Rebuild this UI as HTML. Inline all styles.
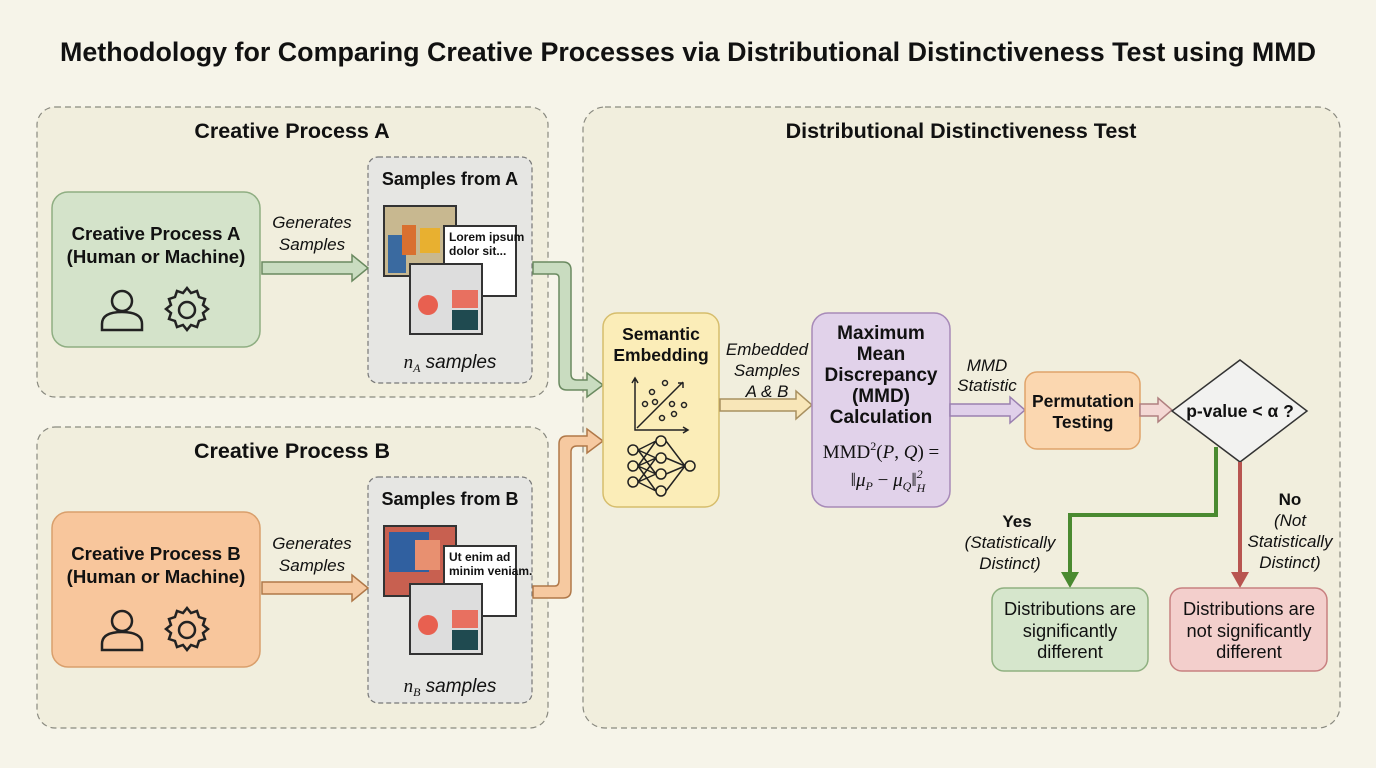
<!DOCTYPE html>
<html><head><meta charset="utf-8"><style>
body{margin:0;background:#f6f4e9;}
svg{display:block;font-family:"Liberation Sans",sans-serif;}
.b{font-weight:bold}
.i{font-style:italic}
</style></head><body>
<svg width="1376" height="768" viewBox="0 0 1376 768">
<rect width="1376" height="768" fill="#f6f4e9"/>
<text x="688" y="61" text-anchor="middle" font-size="26.8" class="b" fill="#111" textLength="1256" lengthAdjust="spacingAndGlyphs">Methodology for Comparing Creative Processes via Distributional Distinctiveness Test using MMD</text>

<g fill="#f1eedd" stroke="#8a8a80" stroke-dasharray="6,4" stroke-width="1.2">
<rect x="37" y="107" width="511" height="290" rx="18"/>
<rect x="37" y="427" width="511" height="301" rx="18"/>
<rect x="583" y="107" width="757" height="621" rx="22"/>
</g>
<g font-size="21.5" class="b" text-anchor="middle" fill="#111">
<text x="292" y="138">Creative Process A</text>
<text x="292" y="458">Creative Process B</text>
<text x="961" y="138">Distributional Distinctiveness Test</text>
</g>

<rect x="52" y="192" width="208" height="155" rx="16" fill="#d4e3ca" stroke="#8fae82" stroke-width="1.5"/>
<rect x="52" y="512" width="208" height="155" rx="16" fill="#f8c69c" stroke="#d99f6c" stroke-width="1.5"/>
<g font-size="18.6" class="b" text-anchor="middle" fill="#111">
<text x="156" y="240">Creative Process A</text><text x="156" y="263">(Human or Machine)</text>
<text x="156" y="560">Creative Process B</text><text x="156" y="583">(Human or Machine)</text>
</g>
<g fill="none" stroke="#222" stroke-width="2.5">
<g id="ic">
<circle cx="122" cy="301" r="10"/>
<path d="M102 330 v-6 q0-12 20-12 q20 0 20 12 v6 z"/>
<circle cx="187" cy="310" r="8"/>
<path d="M187 288 l4 5 6-2 2 6 6 2-2 6 5 4-5 4 2 6-6 2-2 6-6-2-4 5-4-5-6 2-2-6-6-2 2-6-5-4 5-4-2-6 6-2 2-6 6 2z"/>
</g>
<use href="#ic" y="320"/>
</g>

<g fill="#e6e6e3" stroke="#777" stroke-dasharray="5,3" stroke-width="1.2">
<rect x="368" y="157" width="164" height="226" rx="10"/>
<rect x="368" y="477" width="164" height="226" rx="10"/>
</g>
<g font-size="18" class="b" text-anchor="middle" fill="#111">
<text x="450" y="185">Samples from A</text><text x="450" y="505">Samples from B</text>
</g>
<g font-size="19" class="i" text-anchor="middle" fill="#111" font-family="Liberation Serif">
<text x="450" y="368">n<tspan font-size="12" dy="4">A</tspan><tspan dy="-4" font-family="Liberation Sans"> samples</tspan></text>
<text x="450" y="692">n<tspan font-size="12" dy="4">B</tspan><tspan dy="-4" font-family="Liberation Sans"> samples</tspan></text>
</g>
<g stroke="#333" stroke-width="2">
<rect x="384" y="206" width="72" height="70" fill="#c8b890"/>
<rect x="444" y="226" width="72" height="70" fill="#fff"/>
<rect x="410" y="264" width="72" height="70" fill="#ddd"/>
<rect x="384" y="526" width="72" height="70" fill="#c86050"/>
<rect x="444" y="546" width="72" height="70" fill="#fff"/>
<rect x="410" y="584" width="72" height="70" fill="#ddd"/>
</g>
<g stroke="none">
<rect x="388" y="235" width="18" height="38" fill="#3a6aa0"/><rect x="402" y="225" width="14" height="30" fill="#d97030"/><rect x="420" y="228" width="20" height="25" fill="#e8b030"/>
<rect x="389" y="532" width="40" height="40" fill="#3060a0"/><rect x="415" y="540" width="25" height="30" fill="#e89070"/>
<rect x="452" y="290" width="26" height="18" fill="#e87060"/><rect x="452" y="310" width="26" height="20" fill="#1f4a50"/><circle cx="428" cy="305" r="10" fill="#e86050"/>
<rect x="452" y="610" width="26" height="18" fill="#e87060"/><rect x="452" y="630" width="26" height="20" fill="#1f4a50"/><circle cx="428" cy="625" r="10" fill="#e86050"/>
</g>
<g font-size="12" class="b" fill="#111">
<text x="449" y="241">Lorem ipsum</text><text x="449" y="255">dolor sit...</text>
<text x="449" y="561">Ut enim ad</text><text x="449" y="575">minim veniam.</text>
</g>

<g stroke-width="1.5">
<path d="M262 262 h90 v-7 l16 13 -16 13 v-7 h-90z" fill="#c9dcc0" stroke="#6a8a60"/>
<path d="M262 582 h90 v-7 l16 13 -16 13 v-7 h-90z" fill="#f6c9a0" stroke="#b07848"/>
</g>
<g font-size="17" class="i" text-anchor="middle" fill="#111">
<text x="312" y="228">Generates</text><text x="312" y="250">Samples</text>
<text x="312" y="549">Generates</text><text x="312" y="571">Samples</text>
</g>
<path d="M533 262 h30 q8 0 8 8 v104 q0 6 6 6 h10 v-7 l16 12 -16 12 v-7 h-20 q-8 0-8-8 v-104 q0-4-4-4 h-22z" fill="#c9dcc0" stroke="#6a8a60" stroke-width="1.5"/>
<path d="M533 598 h30 q8 0 8-8 v-138 q0-6 6-6 h10 v7 l16-12 -16-12 v7 h-20 q-8 0-8 8 v136 q0 6-4 6 h-22z" fill="#f6c9a0" stroke="#b07848" stroke-width="1.5"/>

<rect x="603" y="313" width="116" height="194" rx="14" fill="#fbedb8" stroke="#d6bd6c" stroke-width="1.5"/>
<g font-size="17.5" class="b" text-anchor="middle" fill="#111"><text x="661" y="340">Semantic</text><text x="661" y="361">Embedding</text></g>
<g fill="none" stroke="#222" stroke-width="1.5">
<path d="M635 378 v52 h53 M632 383 l3-5 3 5 M683 427 l5 3-5 3 M637 428 l46-46 M678 383 h5 v5"/>
<circle cx="665" cy="383" r="2.5"/><circle cx="652" cy="392" r="2.5"/><circle cx="655" cy="402" r="2.5"/><circle cx="645" cy="404" r="2.5"/><circle cx="672" cy="404" r="2.5"/><circle cx="684" cy="405" r="2.5"/><circle cx="674" cy="414" r="2.5"/><circle cx="662" cy="418" r="2.5"/>
<circle cx="633" cy="450" r="5"/><circle cx="633" cy="466" r="5"/><circle cx="633" cy="482" r="5"/>
<circle cx="661" cy="441" r="5"/><circle cx="661" cy="458" r="5"/><circle cx="661" cy="474" r="5"/><circle cx="661" cy="491" r="5"/>
<circle cx="690" cy="466" r="5"/>
<path d="M638 450 L656 441 M638 450 L656 458 M638 450 L656 474 M638 466 L656 441 M638 466 L656 458 M638 466 L656 474 M638 466 L656 491 M638 482 L656 458 M638 482 L656 474 M638 482 L656 491 M666 441 L685 466 M666 458 L685 466 M666 474 L685 466 M666 491 L685 466"/>
</g>

<path d="M720 399 h76 v-8 l16 14 -16 14 v-8 h-76z" fill="#f8e6b8" stroke="#a89060" stroke-width="1.5"/>
<g font-size="17" class="i" text-anchor="middle" fill="#111"><text x="767" y="355">Embedded</text><text x="767" y="376">Samples</text><text x="767" y="397">A &amp; B</text></g>

<rect x="812" y="313" width="138" height="194" rx="16" fill="#e1d2ea" stroke="#a78ab8" stroke-width="1.5"/>
<g font-size="19" class="b" text-anchor="middle" fill="#111"><text x="881" y="339">Maximum</text><text x="881" y="360">Mean</text><text x="881" y="381">Discrepancy</text><text x="881" y="402">(MMD)</text><text x="881" y="423">Calculation</text></g>
<g font-family="Liberation Serif" font-size="19" fill="#111" text-anchor="middle">
<text x="881" y="458">MMD<tspan font-size="12" dy="-8">2</tspan><tspan dy="8">(</tspan><tspan class="i">P</tspan>, <tspan class="i">Q</tspan>) =</text>
<text x="888" y="486">‖<tspan class="i">μ</tspan><tspan font-size="12" class="i" dy="4">P</tspan><tspan dy="-4"> − </tspan><tspan class="i">μ</tspan><tspan font-size="12" class="i" dy="4">Q</tspan><tspan dy="-4">‖</tspan><tspan font-size="12" class="i" dy="-8">2</tspan><tspan font-size="12" class="i" dx="-6" dy="14">H</tspan></text>
</g>

<path d="M950 404 h60 v-7 l15 13 -15 13 v-7 h-60z" fill="#e0d0ea" stroke="#9a80b0" stroke-width="1.5"/>
<g font-size="17" class="i" text-anchor="middle" fill="#111"><text x="987" y="371">MMD</text><text x="987" y="391">Statistic</text></g>

<rect x="1025" y="372" width="115" height="77" rx="12" fill="#fbd7b0" stroke="#e0a46a" stroke-width="1.5"/>
<g font-size="17.5" class="b" text-anchor="middle" fill="#111"><text x="1083" y="407">Permutation</text><text x="1083" y="428">Testing</text></g>
<path d="M1140 404 h18 v-6 l14 12 -14 12 v-6 h-18z" fill="#f4d8d4" stroke="#b08080" stroke-width="1.5"/>

<polygon points="1240,360 1307,411 1240,462 1172,411" fill="#f2f2f0" stroke="#333" stroke-width="1.5"/>
<text x="1240" y="417" font-size="17.5" class="b" text-anchor="middle" fill="#111">p-value &lt; α ?</text>

<path d="M1216 447 V515 H1070 V575" fill="none" stroke="#4a8a30" stroke-width="4"/>
<polygon points="1061,572 1079,572 1070,588" fill="#4a8a30"/>
<path d="M1240 462 V575" fill="none" stroke="#b85550" stroke-width="4"/>
<polygon points="1231,572 1249,572 1240,588" fill="#b85550"/>

<g font-size="17" text-anchor="middle" fill="#111">
<text x="1017" y="527" class="b">Yes</text><text x="1010" y="548" class="i">(Statistically</text><text x="1010" y="569" class="i">Distinct)</text>
<text x="1290" y="505" class="b">No</text><text x="1290" y="526" class="i">(Not</text><text x="1290" y="547" class="i">Statistically</text><text x="1290" y="568" class="i">Distinct)</text>
</g>

<rect x="992" y="588" width="156" height="83" rx="12" fill="#d6e6cc" stroke="#8fb080" stroke-width="1.5"/>
<rect x="1170" y="588" width="157" height="83" rx="12" fill="#f3cfcc" stroke="#c88080" stroke-width="1.5"/>
<g font-size="18.3" text-anchor="middle" fill="#111">
<text x="1070" y="615">Distributions are</text><text x="1070" y="637">significantly</text><text x="1070" y="658">different</text>
<text x="1249" y="615">Distributions are</text><text x="1249" y="637">not significantly</text><text x="1249" y="658">different</text>
</g>
</svg>
</body></html>
